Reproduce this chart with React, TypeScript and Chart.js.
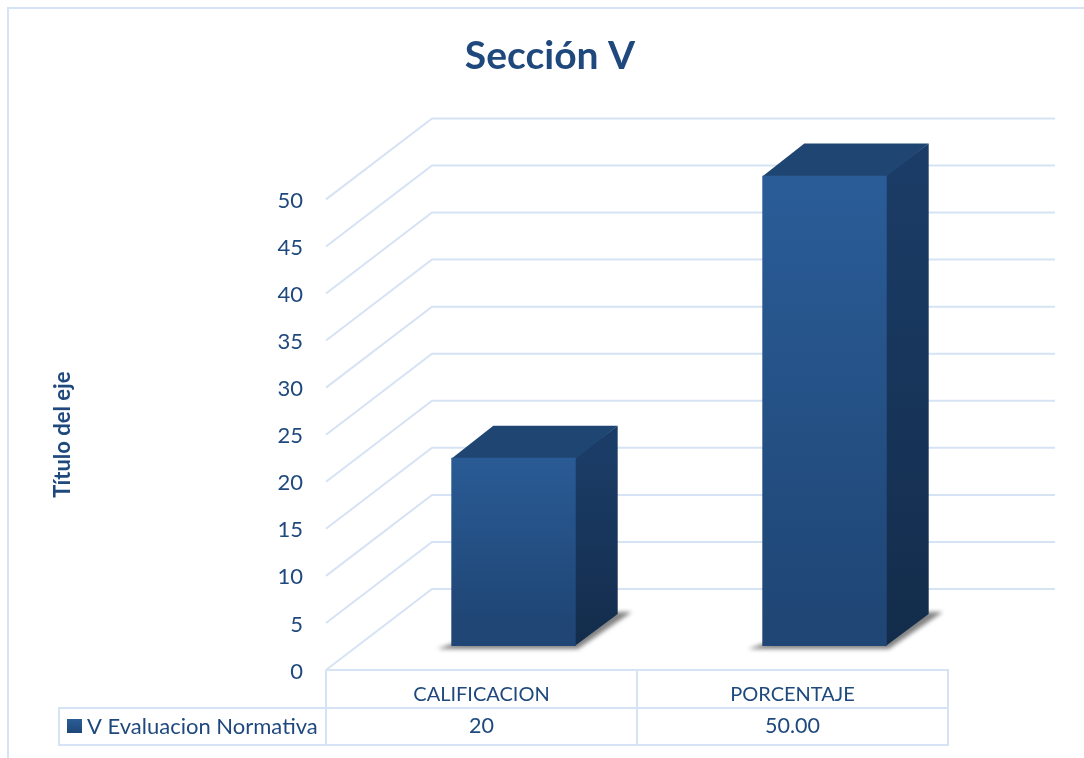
import React, { useEffect, useRef } from "react";
import { Chart, registerables } from "chart.js";

Chart.register(...registerables);

const categories = ["CALIFICACION", "PORCENTAJE"];
const seriesName = "V Evaluacion Normativa";
const seriesValues = [20, 50];
const tableValues = ["20", "50.00"];
const chartTitle = "Sección V";
const axisTitle = "Título del eje";

const INK = "#1f497d";
const LINE = "#d6e3f4";
const FONT = "Lato, 'Open Sans', sans-serif";
const floorDx = 106;
const floorDy = -81;
const frontX = 32;
const frontY = -24;
const backX = 74;
const backY = -56;

const framePlugin = {
  id: "frame3d",
  beforeDraw(chart: any) {
    const { ctx, chartArea, scales } = chart;
    ctx.save();
    ctx.strokeStyle = LINE;
    ctx.lineWidth = 2;
    // outer frame
    ctx.beginPath();
    ctx.moveTo(8, 758);
    ctx.lineTo(8, 8);
    ctx.lineTo(1084, 8);
    ctx.stroke();
    // walls: gridlines run along the floor depth, then across the back
    const backRight = chartArea.left + 729;
    for (const t of scales.y.ticks) {
      const y = scales.y.getPixelForValue(t.value);
      ctx.beginPath();
      ctx.moveTo(chartArea.left, y);
      ctx.lineTo(chartArea.left + floorDx, y + floorDy);
      ctx.lineTo(backRight, y + floorDy);
      ctx.stroke();
    }
    ctx.restore();
  },
  beforeDatasetDraw(chart: any) {
    const { ctx } = chart;
    const meta = chart.getDatasetMeta(0);
    const dx = backX - frontX;
    const dy = backY - frontY;
    ctx.save();
    for (const bar of meta.data) {
      const l = bar.x - bar.width / 2 + frontX;
      const r = bar.x + bar.width / 2 + frontX;
      const t = bar.y + frontY;
      const b = bar.base + frontY;
      // soft floor shadow
      ctx.save();
      ctx.filter = "blur(2px)";
      ctx.fillStyle = "rgba(90,90,90,0.75)";
      ctx.beginPath();
      ctx.moveTo(l - 14, b + 3);
      ctx.lineTo(l, b - 2);
      ctx.lineTo(r + dx, b + dy - 2);
      ctx.lineTo(r + dx + 14, b + dy - 2);
      ctx.lineTo(r + 2, b + 3);
      ctx.closePath();
      ctx.fill();
      ctx.restore();
      // side face
      const side = ctx.createLinearGradient(0, t, 0, b);
      side.addColorStop(0, "#1b3c66");
      side.addColorStop(1, "#132c4b");
      ctx.fillStyle = side;
      ctx.beginPath();
      ctx.moveTo(r - 1, t);
      ctx.lineTo(r + dx, t + dy);
      ctx.lineTo(r + dx, b + dy);
      ctx.lineTo(r - 1, b);
      ctx.closePath();
      ctx.fill();
      // top face
      ctx.fillStyle = "#1f4672";
      ctx.beginPath();
      ctx.moveTo(l, t + 1);
      ctx.lineTo(l + dx, t + dy);
      ctx.lineTo(r + dx, t + dy);
      ctx.lineTo(r, t + 1);
      ctx.closePath();
      ctx.fill();
    }
    ctx.restore();
    // the front faces are the library's own bars, moved onto the floor
    ctx.save();
    ctx.translate(frontX, frontY);
  },
  afterDatasetDraw(chart: any) {
    chart.ctx.restore();
  },
  afterDraw(chart: any) {
    const { ctx, chartArea, scales } = chart;
    const x = scales.x;
    const top = chartArea.bottom;
    const mid = top + 38;
    const bottom = top + 75;
    const left = chartArea.left;
    const right = chartArea.right;
    const split = (x.getPixelForValue(0) + x.getPixelForValue(1)) / 2;
    ctx.save();
    ctx.strokeStyle = LINE;
    ctx.lineWidth = 2;
    ctx.beginPath();
    ctx.moveTo(left, top);
    ctx.lineTo(right, top);
    ctx.lineTo(right, bottom);
    ctx.lineTo(59, bottom);
    ctx.lineTo(59, mid);
    ctx.lineTo(right, mid);
    ctx.moveTo(left, top);
    ctx.lineTo(left, bottom);
    ctx.moveTo(split, top);
    ctx.lineTo(split, bottom);
    ctx.stroke();
    // legend key
    const key = ctx.createLinearGradient(0, mid + 11, 0, mid + 25);
    key.addColorStop(0, "#2a5d98");
    key.addColorStop(1, "#1f4675");
    ctx.fillStyle = key;
    ctx.fillRect(67, mid + 11, 15, 14);
    // table text
    ctx.fillStyle = INK;
    ctx.textBaseline = "middle";
    ctx.textAlign = "left";
    ctx.font = `22px ${FONT}`;
    ctx.fillText(seriesName, 87, mid + 18.5);
    ctx.textAlign = "center";
    ctx.font = `21.5px ${FONT}`;
    tableValues.forEach((v, i) => ctx.fillText(v, x.getPixelForValue(i), mid + 18.5));
    ctx.restore();
  },
};

export default function App() {
  const ref = useRef<HTMLCanvasElement>(null);
  useEffect(() => {
    const chart = new Chart(ref.current as HTMLCanvasElement, {
      type: "bar",
      plugins: [framePlugin],
      data: {
        labels: categories,
        datasets: [
          {
            label: seriesName,
            data: seriesValues,
            categoryPercentage: 1,
            barPercentage: 0.4,
            borderWidth: 0,
            backgroundColor: (c: any) => {
              const s = c.chart.scales?.y;
              if (!s || !c.chart.chartArea || c.type !== "data" || !Number.isFinite(c.raw)) return "#2a5d98";
              const top = s.getPixelForValue(c.raw) + frontY;
              const bottom = s.getPixelForValue(0) + frontY;
              if (!Number.isFinite(top) || !Number.isFinite(bottom)) return "#2a5d98";
              const g = c.chart.ctx.createLinearGradient(0, top, 0, bottom);
              g.addColorStop(0, "#2b5e9a");
              g.addColorStop(1, "#1f4675");
              return g;
            },
          },
        ],
      },
      options: {
        responsive: false,
        animation: false,
        layout: { padding: { left: 16, right: 0, top: 0, bottom: 0 } },
        plugins: {
          legend: { display: false },
          tooltip: { enabled: false },
          title: {
            display: true,
            text: chartTitle,
            color: INK,
            font: { family: FONT, size: 39, weight: "bold", lineHeight: 1.2 },
            padding: { top: 33, bottom: 119.6 },
          },
        },
        scales: {
          x: {
            grid: { display: false },
            border: { display: false },
            ticks: { color: INK, font: { family: FONT, size: 20 }, padding: 5, maxRotation: 0 },
            afterFit(s: any) {
              s.height = 88;
            },
          },
          y: {
            min: 0,
            max: 50,
            grid: { display: false, drawTicks: false },
            border: { display: false },
            ticks: { stepSize: 5, color: INK, font: { family: FONT, size: 22 }, padding: 23, labelOffset: 1.5 },
            title: {
              display: true,
              text: axisTitle,
              color: INK,
              font: { family: FONT, size: 22, weight: "bold" },
              padding: { top: 34, bottom: 0 },
            },
            afterFit(s: any) {
              s.width = 310;
            },
          },
          rightGutter: {
            position: "right",
            grid: { display: false, drawTicks: false },
            border: { display: false },
            ticks: { display: false },
            afterFit(s: any) {
              s.width = 136;
            },
          },
        },
      } as any,
    });
    return () => chart.destroy();
  }, []);
  return (
    <div style={{ position: "fixed", left: 0, top: 0, width: 1084, height: 758, background: "#fff" }}>
      <canvas ref={ref} width={1084} height={758} style={{ display: "block" }} />
    </div>
  );
}
